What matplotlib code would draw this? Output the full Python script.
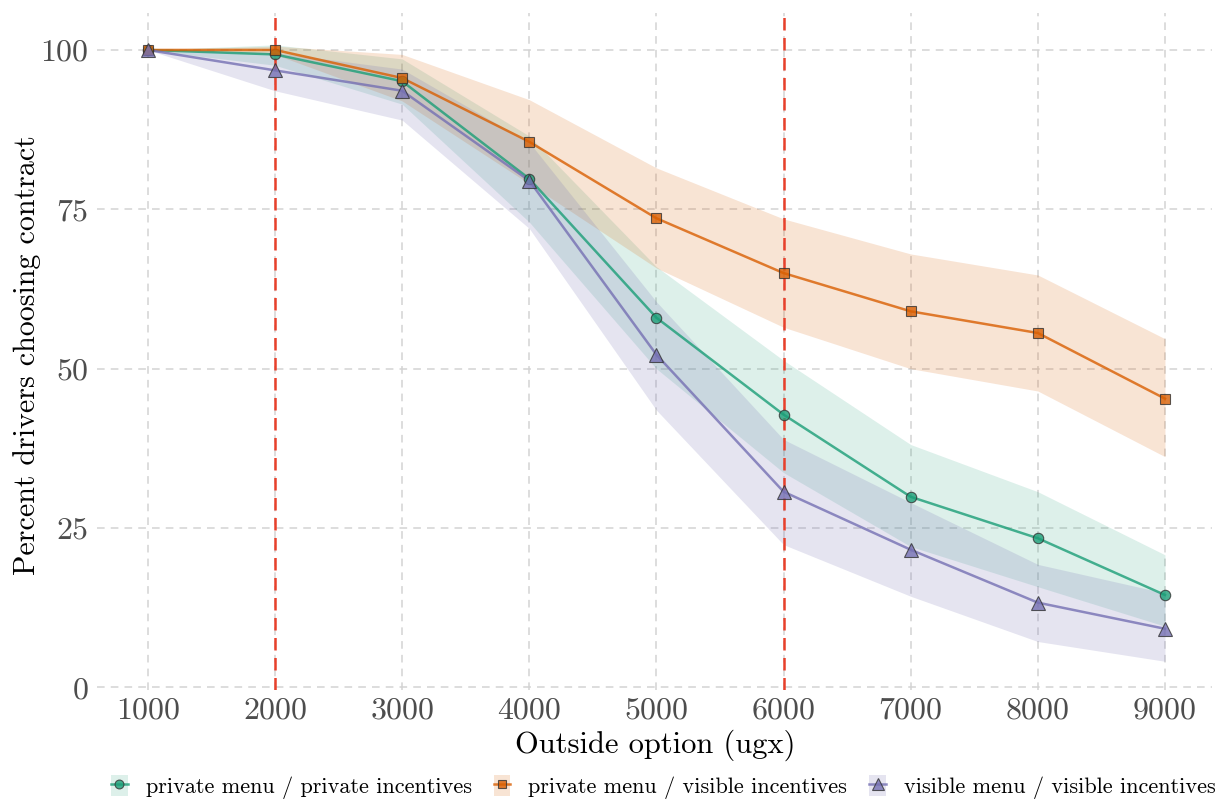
import matplotlib
matplotlib.use("Agg")
import matplotlib.pyplot as plt
from matplotlib.patches import Patch
from matplotlib.lines import Line2D

plt.rcParams['font.family'] = ['cmr10', 'DejaVu Serif']
plt.rcParams['axes.formatter.use_mathtext'] = True

outside_option = [1000, 2000, 3000, 4000, 5000, 6000, 7000, 8000, 9000]

labels = ["private menu / private incentives",
          "private menu / visible incentives",
          "visible menu / visible incentives"]

priv_priv = [100, 99.3, 95.1, 79.8, 58.0, 42.8, 29.9, 23.4, 14.5]
priv_priv_lo = [100, 97.6, 91.5, 73.0, 50.0, 33.7, 22.1, 15.8, 9.6]
priv_priv_hi = [100, 100.8, 98.6, 86.5, 66.0, 51.3, 38.1, 30.7, 20.8]

priv_vis = [100, 100, 95.6, 85.6, 73.6, 65.0, 59.0, 55.6, 45.3]
priv_vis_lo = [100, 99.3, 92.0, 79.0, 65.8, 56.5, 50.0, 46.5, 36.2]
priv_vis_hi = [100, 100.6, 99.3, 92.2, 81.5, 73.5, 68.0, 64.7, 54.7]

vis_vis = [100, 96.8, 93.6, 79.5, 52.2, 30.7, 21.6, 13.3, 9.2]
vis_vis_lo = [100, 93.6, 89.0, 72.0, 43.5, 22.4, 14.3, 7.2, 4.1]
vis_vis_hi = [100, 99.6, 97.0, 85.5, 60.5, 38.9, 29.0, 19.3, 14.8]

threshold_lines = [2000, 6000]

colors = ["#1b9e77", "#d95f02", "#7570b3"]
markers = ["o", "s", "^"]
msizes = [7.5, 7, 9.5]
fill_alpha = [0.15, 0.17, 0.19]

series = [(priv_priv, priv_priv_lo, priv_priv_hi),
          (priv_vis, priv_vis_lo, priv_vis_hi),
          (vis_vis, vis_vis_lo, vis_vis_hi)]

fig = plt.figure(figsize=(12.17, 8.02), dpi=100)
ax = fig.add_axes([0.0797, 0.1397, 0.9162, 0.8441])

grid_kw = dict(color="#d3d3d3", lw=1.1, ls=(0, (5, 4)), zorder=0)
for yv in [0, 25, 50, 75, 100]:
    ax.axhline(yv, **grid_kw)
for xv in outside_option:
    ax.axvline(xv, **grid_kw)

for (mid, lo, hi), c, a in zip(series, colors, fill_alpha):
    ax.fill_between(outside_option, lo, hi, color=c, alpha=a, lw=0, zorder=1)

for xv in threshold_lines:
    ax.axvline(xv, color="#e8402b", lw=1.8, ls=(0, (5, 3)), zorder=2)

for (mid, lo, hi), c, m, ms in zip(series, colors, markers, msizes):
    ax.plot(outside_option, mid, color=c, lw=1.8, alpha=0.8, zorder=3)
    ax.plot(outside_option, mid, ls="none", marker=m, ms=ms, mfc=c,
            mec="#333333", mew=0.8, alpha=0.8, zorder=4)

ax.set_xlim(600, 9370)
ax.set_ylim(-0.4, 105.8)
ax.set_xticks(outside_option)
ax.set_xticklabels([str(v) for v in outside_option])
ax.set_yticks([0, 25, 50, 75, 100])
ax.set_yticklabels(["0", "25", "50", "75", "100"])
ax.tick_params(axis="both", length=0, labelsize=23, labelcolor="#4d4d4d")
ax.tick_params(axis="x", pad=5)
ax.tick_params(axis="y", pad=6)
for s in ax.spines.values():
    s.set_visible(False)

ax.set_xlabel("Outside option (ugx)", fontsize=22)
ax.set_ylabel("Percent drivers choosing contract", fontsize=21.6)
ax.xaxis.set_label_coords(0.501, -0.081)
ax.yaxis.set_label_coords(-0.063, 0.495)
ax.xaxis.label.set_va("center")
ax.yaxis.label.set_va("center")

handles = []
for c, m, ms, a in zip(colors, markers, msizes, fill_alpha):
    handles.append((Patch(facecolor=c, alpha=a, edgecolor="none"),
                    Line2D([], [], color=c, lw=1.8, alpha=0.8),
                    Line2D([], [], ls="none", marker=m, ms=ms * 0.85, mfc=c,
                           mec="#333333", mew=0.8, alpha=0.8)))
leg = fig.legend(handles, labels, loc="lower center", ncol=3, frameon=False,
                 bbox_to_anchor=(0.545, -0.021), fontsize=16,
                 handlelength=0.75, handleheight=1.1, handletextpad=0.8,
                 columnspacing=1.0)

fig.savefig("out.png", dpi=100)
